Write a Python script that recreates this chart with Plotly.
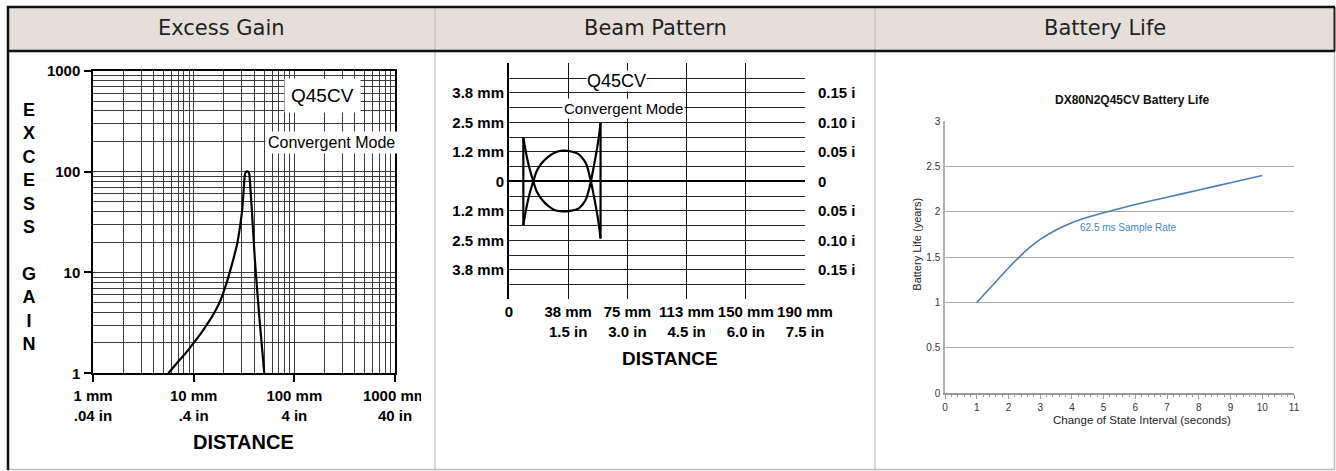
import plotly.graph_objects as go

# full-window figure; body margin removed in the page (see write_html below)
W, H = 1336, 471
def X(p): return p / W
def Y(p): return 1 - p / H

# ---------------- data ----------------
eg_dist = [5.6, 7.0, 8.5, 10.0, 12.0, 14.0, 16.5, 18.5, 21.0, 23.0, 25.0, 27.0, 28.8, 30.2, 31.2, 31.8, 32.4, 33.4, 34.6, 35.6, 36.2, 37.0, 37.7, 40.6, 44.9, 50.3]
eg_gain = [1.0, 1.3, 1.62, 2.0, 2.55, 3.2, 4.2, 5.3, 7.6, 10.3, 14.0, 19.0, 28.0, 40.0, 60.0, 80.0, 95.0, 100.0, 100.0, 96.0, 80.0, 58.0, 44.0, 13.2, 3.6, 1.0]
eg_xtick_vals = [1, 10, 100, 1000]
eg_xtick_text = ["1 mm<br>.04 in", "10 mm<br>.4 in", "100 mm<br>4 in", "1000 mm<br>40 in"]
eg_ytick_vals = [1, 10, 100, 1000]
eg_ytick_text = ["1", "10", "100", "1000"]
eg_minor = [m * d for d in (1, 10, 100) for m in range(2, 10)]

bp_dist = [0.363, 0.45, 0.53, 0.616, 0.70, 0.827, 1.0, 1.164, 1.36, 1.55, 1.753, 1.90, 1.966, 2.075, 2.15, 2.22, 2.28, 2.32]
bp_curve_a = [0.074, 0.042, 0.019, 0.0, -0.017, -0.0305, -0.042, -0.049, -0.051, -0.050, -0.0465, -0.036, -0.0276, 0.0, 0.026, 0.051, 0.077, 0.099]
bp_curve_b = [-0.074, -0.042, -0.019, 0.0, 0.017, 0.0305, 0.042, 0.049, 0.052, 0.051, 0.0465, 0.036, 0.0276, 0.0, -0.025, -0.050, -0.075, -0.097]
bp_xtick_vals = [0, 1.5, 3.0, 4.5, 6.0, 7.5]
bp_xtick_text = ["0", "38 mm<br>1.5 in", "75 mm<br>3.0 in", "113 mm<br>4.5 in", "150 mm<br>6.0 in", "190 mm<br>7.5 in"]
bp_ytick_vals = [-0.15, -0.10, -0.05, 0, 0.05, 0.10, 0.15]
bp_ytick_left = ["3.8 mm", "2.5 mm", "1.2 mm", "0", "1.2 mm", "2.5 mm", "3.8 mm"]
bp_ytick_right = ["0.15 in", "0.10 in", "0.05 in", "0", "0.05 in", "0.10 in", "0.15 in"]
bp_minor = [-0.175, -0.125, -0.075, -0.025, 0.025, 0.075, 0.125, 0.175]

bl_interval = [1, 1.5, 2, 2.5, 3, 3.5, 4, 4.5, 5, 6, 7, 8, 9, 10]
bl_years = [1.0, 1.19, 1.38, 1.555, 1.695, 1.80, 1.88, 1.94, 1.99, 2.08, 2.16, 2.24, 2.32, 2.40]

headers = ["Excess Gain", "Beam Pattern", "Battery Life"]

ARIAL = "Liberation Sans, Arial, sans-serif"

fig = go.Figure()

fig.add_trace(go.Scatter(x=eg_dist, y=eg_gain, mode="lines", xaxis="x", yaxis="y",
                         line=dict(color="black", width=2.2, shape="spline", smoothing=0.6),
                         hoverinfo="skip", showlegend=False))

fig.add_trace(go.Scatter(x=bp_dist, y=bp_curve_a, mode="lines", xaxis="x2", yaxis="y2",
                         line=dict(color="black", width=2.2, shape="spline", smoothing=1.0),
                         hoverinfo="skip", showlegend=False))
fig.add_trace(go.Scatter(x=bp_dist, y=bp_curve_b, mode="lines", xaxis="x2", yaxis="y3",
                         line=dict(color="black", width=2.2, shape="spline", smoothing=1.0),
                         hoverinfo="skip", showlegend=False))
for i in (0, -1):
    fig.add_trace(go.Scatter(x=[bp_dist[i], bp_dist[i]], y=[bp_curve_a[i], bp_curve_b[i]],
                             mode="lines", xaxis="x2", yaxis="y2",
                             line=dict(color="black", width=2.2),
                             hoverinfo="skip", showlegend=False))

fig.add_trace(go.Scatter(x=bl_interval, y=bl_years, mode="lines", xaxis="x4", yaxis="y4",
                         line=dict(color="#4a7ebb", width=1.6, shape="spline", smoothing=0.6),
                         hoverinfo="skip", showlegend=False))

bold15 = dict(family=ARIAL, size=15, color="black", weight="bold")

fig.update_layout(
    width=W, height=H, margin=dict(l=0, r=0, t=0, b=0, pad=0, autoexpand=False),
    paper_bgcolor="white", plot_bgcolor="rgba(0,0,0,0)",
    xaxis=dict(domain=[X(93), X(395)], anchor="y", type="log", range=[0, 3], automargin=False,
               tickvals=eg_xtick_vals, ticktext=eg_xtick_text, tickfont=bold15, tickangle=0,
               ticks="outside", ticklen=7, tickcolor="black", tickwidth=1.5,
               ticklabelstandoff=1,
               showgrid=True, gridcolor="#3c3c3c", gridwidth=1,
               minor=dict(tickvals=eg_minor, showgrid=True, gridcolor="#3c3c3c", gridwidth=1, ticks=""),
               showline=True, mirror=True, linecolor="black", linewidth=1.5, zeroline=False),
    yaxis=dict(domain=[Y(373.3), Y(70.7)], anchor="x", type="log", range=[0, 3], automargin=False,
               tickvals=eg_ytick_vals, ticktext=eg_ytick_text, tickfont=bold15,
               ticks="outside", ticklen=7, tickcolor="black", tickwidth=1.5,
               ticklabelstandoff=1,
               showgrid=True, gridcolor="#3c3c3c", gridwidth=1,
               minor=dict(tickvals=eg_minor, showgrid=True, gridcolor="#3c3c3c", gridwidth=1, ticks=""),
               showline=True, mirror=True, linecolor="black", linewidth=1.5, zeroline=False),
    xaxis2=dict(domain=[X(509), X(805)], anchor="y2", range=[0, 7.5], automargin=False,
                tickvals=bp_xtick_vals, ticktext=bp_xtick_text, tickfont=bold15, tickangle=0,
                ticks="", ticklabelstandoff=2,
                showgrid=True, gridcolor="#111", gridwidth=1.2,
                showline=False, zeroline=False),
    yaxis2=dict(domain=[Y(299.3), Y(63.3)], anchor="x2", range=[-0.2, 0.2], automargin=False,
                tickvals=bp_ytick_vals, ticktext=bp_ytick_left, tickfont=bold15,
                ticks="", ticklabelstandoff=0,
                showgrid=True, gridcolor="#222", gridwidth=1.2,
                minor=dict(tickvals=bp_minor, showgrid=True, gridcolor="#222", gridwidth=1.2, ticks=""),
                zeroline=True, zerolinecolor="black", zerolinewidth=2,
                showline=True, linecolor="black", linewidth=2),
    yaxis3=dict(overlaying="y2", anchor="x2", side="right", range=[-0.2, 0.2], automargin=False,
                tickvals=bp_ytick_vals, ticktext=bp_ytick_right, tickfont=bold15,
                ticks="", ticklabelstandoff=12,
                showgrid=False, zeroline=False, showline=False),
    xaxis4=dict(domain=[X(945), X(1294)], anchor="y4", range=[0, 11], dtick=1, tickangle=0, automargin=False,
                tickfont=dict(family=ARIAL, size=10, color="#333"),
                ticks="outside", ticklen=4, tickcolor="#999", tickwidth=1,
                minor=dict(dtick=0.2, ticks="outside", ticklen=2, tickcolor="#999", showgrid=False),
                showgrid=False, zeroline=False,
                showline=True, linecolor="#9a9a9a", linewidth=1.5),
    yaxis4=dict(domain=[Y(393.3), Y(121)], anchor="x4", range=[0, 3], dtick=0.5, automargin=False,
                tickfont=dict(family=ARIAL, size=10, color="#333"),
                ticks="", ticklabelstandoff=1,
                showgrid=True, gridcolor="#a8a8a8", gridwidth=1.3, zeroline=False,
                showline=True, linecolor="#b0b0b0", linewidth=1.5),
)

shapes = []
shapes.append(dict(type="rect", xref="paper", yref="paper", layer="below",
                   x0=X(8), x1=X(1335), y0=Y(51), y1=Y(7), fillcolor="#e6dfd9", line=dict(width=0)))
shapes.append(dict(type="rect", xref="paper", yref="paper", layer="above",
                   x0=X(421), x1=X(434), y0=Y(430), y1=Y(380), fillcolor="white", line=dict(width=0)))
shapes.append(dict(type="rect", xref="paper", yref="paper", layer="above",
                   x0=X(855), x1=X(874), y0=Y(300), y1=Y(60), fillcolor="white", line=dict(width=0)))
def hline(y, x0, x1, color, w):
    return dict(type="line", xref="paper", yref="paper", layer="above",
                x0=X(x0), x1=X(x1), y0=Y(y), y1=Y(y), line=dict(color=color, width=w))
def vline(x, y0, y1, color, w):
    return dict(type="line", xref="paper", yref="paper", layer="above",
                x0=X(x), x1=X(x), y0=Y(y0), y1=Y(y1), line=dict(color=color, width=w))
shapes += [
    vline(435, 7, 470, "#bdbdbd", 1.2),
    vline(875, 7, 470, "#bdbdbd", 1.2),
    hline(469.5, 7, 1335, "#bdbdbd", 1.5),
    vline(1334.5, 7, 51, "#222", 2),
    vline(1334.5, 51, 470, "#bdbdbd", 1.5),
    hline(7, 7, 1335, "#111", 2.5),
    hline(51, 7, 1335, "#111", 2.5),
    vline(8, 6, 470, "#111", 2.5),
]
fig.update_layout(shapes=shapes)

ann = []
for cx, t in zip([221.5, 655, 1105], headers):
    ann.append(dict(x=X(cx), y=Y(28.5), xref="paper", yref="paper", text=t, showarrow=False,
                    xanchor="center", yanchor="middle",
                    font=dict(family="DejaVu Sans, Verdana, sans-serif", size=21, color="#222")))

ann.append(dict(x=X(28.5), y=Y(227), xref="paper", yref="paper",
                text="E<br>X<br>C<br>E<br>S<br>S<br> <br>G<br>A<br>I<br>N", showarrow=False,
                xanchor="center", yanchor="middle", align="center",
                font=dict(family=ARIAL, size=18, color="black", weight="bold")))
ann.append(dict(x=X(243.5), y=Y(442), xref="paper", yref="paper", text="DISTANCE", showarrow=False,
                xanchor="center", yanchor="middle",
                font=dict(family=ARIAL, size=20, color="black", weight="bold")))
ann.append(dict(x=X(322), y=Y(96), xref="paper", yref="paper", text="Q45CV", showarrow=False,
                xanchor="center", yanchor="middle", bgcolor="white", borderpad=6,
                font=dict(family=ARIAL, size=19, color="black")))
ann.append(dict(x=X(331), y=Y(142.5), xref="paper", yref="paper", text="Convergent Mode", showarrow=False,
                xanchor="center", yanchor="middle", bgcolor="white", borderpad=2,
                font=dict(family=ARIAL, size=16, color="black")))

ann.append(dict(x=X(616.7), y=Y(81.5), xref="paper", yref="paper", text="Q45CV", showarrow=False,
                xanchor="center", yanchor="middle", bgcolor="white", borderpad=0,
                font=dict(family=ARIAL, size=18, color="black")))
ann.append(dict(x=X(623.3), y=Y(108.3), xref="paper", yref="paper", text="Convergent Mode", showarrow=False,
                xanchor="center", yanchor="middle", bgcolor="white", borderpad=1,
                font=dict(family=ARIAL, size=15, color="black")))
ann.append(dict(x=X(669.7), y=Y(358.3), xref="paper", yref="paper", text="DISTANCE", showarrow=False,
                xanchor="center", yanchor="middle",
                font=dict(family=ARIAL, size=19, color="black", weight="bold")))

ann.append(dict(x=X(1131.7), y=Y(100), xref="paper", yref="paper", text="DX80N2Q45CV Battery Life",
                showarrow=False, xanchor="center", yanchor="middle",
                font=dict(family=ARIAL, size=12, color="#111", weight="bold")))
ann.append(dict(x=X(1141.7), y=Y(420), xref="paper", yref="paper", text="Change of State Interval (seconds)",
                showarrow=False, xanchor="center", yanchor="middle",
                font=dict(family=ARIAL, size=11.5, color="#222")))
ann.append(dict(x=X(916.7), y=Y(244), xref="paper", yref="paper", text="Battery Life (years)",
                showarrow=False, xanchor="center", yanchor="middle", textangle=-90,
                font=dict(family=ARIAL, size=11, color="#222")))
ann.append(dict(x=X(1128), y=Y(227.3), xref="paper", yref="paper", text="62.5 ms Sample Rate",
                showarrow=False, xanchor="center", yanchor="middle",
                font=dict(family=ARIAL, size=10, color="#3d85c6")))
fig.update_layout(annotations=ann)

fig.write_html("out.html", config=dict(displayModeBar=False),
               post_script="document.body.style.margin='0';document.body.style.overflow='hidden';")
